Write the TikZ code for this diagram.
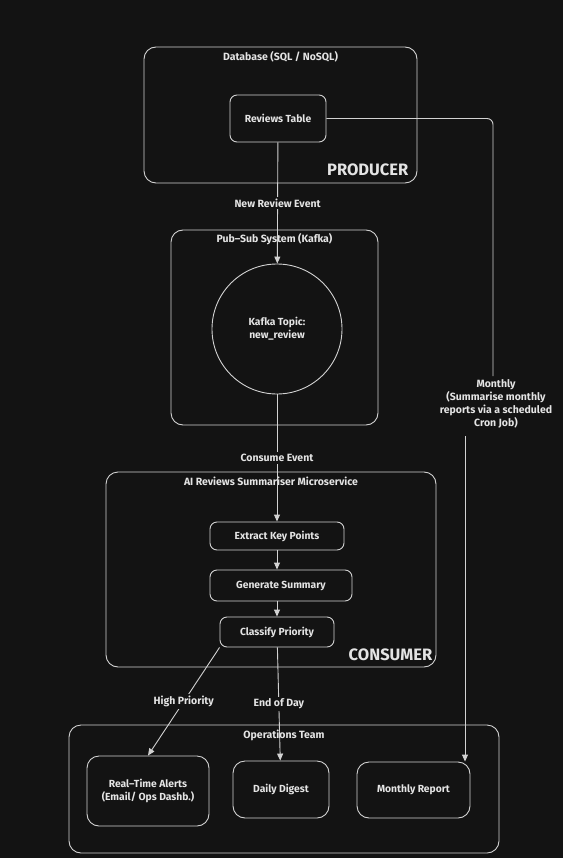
\documentclass[tikz,border=0pt]{standalone}
\usepackage{fontspec}
\setmainfont{Fira Sans}
\usetikzlibrary{positioning,arrows.meta}
\definecolor{bg}{HTML}{131313}
\definecolor{ink}{HTML}{D2D2D2}
\definecolor{txt}{HTML}{E4E4E4}
\begin{document}
\begin{tikzpicture}[x=1pt, y=-1pt,
    group_box/.style={draw=ink, line width=0.9pt, rounded corners=12pt, inner sep=0pt},
    step_box/.style={draw=ink, line width=0.9pt, rounded corners=7pt, inner sep=0pt, text=txt, align=center, font=\bfseries\fontsize{10.3}{13}\selectfont},
    group_title/.style={text=txt, inner sep=1pt, font=\bfseries\fontsize{10.5}{12}\selectfont},
    role_label/.style={text=txt, inner sep=0pt, font=\bfseries\fontsize{16.5}{18}\selectfont},
    edge_label/.style={fill=bg, text=txt, align=center, inner sep=2pt, font=\bfseries\fontsize{10.5}{13}\selectfont},
    flow/.style={draw=ink, line width=0.9pt, -{Triangle[width=6pt,length=7pt]}},
    link/.style={draw=ink, line width=0.9pt}
]
\fill[bg] (0,0) rectangle (563,858);

\node[group_box, minimum width=273pt, minimum height=136pt] (producer) at (280.5,115) {};
\node[group_title, below=4pt of producer.north] (db_title) {Database (SQL / NoSQL)};
\node[role_label, anchor=south east] (producer_lbl) at ([xshift=-9pt,yshift=7pt]producer.south east) {PRODUCER};
\node[step_box, minimum width=96pt, minimum height=47pt] (reviews) at (278,118.5) {Reviews Table};

\node[group_box, minimum width=207pt, minimum height=195pt] (kafka) at (274.5,327.5) {};
\node[group_title, below=3pt of kafka.north] (kafka_title) {Pub--Sub System (Kafka)};
\node[step_box, circle, minimum size=130pt] (topic) at (277,329) {Kafka Topic:\\new\_review};

\node[group_box, minimum width=330pt, minimum height=195pt] (consumer) at (271,569.5) {};
\node[group_title, below=4pt of consumer.north] (ai_title) {AI Reviews Summariser Microservice};
\node[role_label, anchor=south east] (consumer_lbl) at ([xshift=-4pt,yshift=6pt]consumer.south east) {CONSUMER};
\node[step_box, minimum width=134pt, minimum height=28pt] (extract) at (277,536) {Extract Key Points};
\node[step_box, minimum width=142pt, minimum height=31pt] (summary) at (281,585.5) {Generate Summary};
\node[step_box, minimum width=114pt, minimum height=30pt] (classify) at (277,632) {Classify Priority};

\node[group_box, minimum width=430pt, minimum height=128pt] (ops) at (284,789) {};
\node[group_title, below=4pt of ops.north] (ops_title) {Operations Team};
\node[step_box, minimum width=122pt, minimum height=70pt, rounded corners=12pt] (alerts) at (148,791) {Real--Time Alerts\\(Email/ Ops Dashb.)};
\node[step_box, minimum width=96pt, minimum height=57pt, rounded corners=12pt] (digest) at (281,789.5) {Daily Digest};
\node[step_box, minimum width=113pt, minimum height=56pt, rounded corners=12pt] (report) at (413.5,790) {Monthly Report};

\draw[flow] (reviews) -- node[edge_label] {New Review Event} (topic);
\draw[flow] (topic) -- node[edge_label] {Consume Event} (extract);
\draw[flow] (extract) -- (extract |- summary.north);
\draw[flow] (summary.south -| classify) -- (classify);
\draw[flow] (classify.south west) -- node[edge_label] {High Priority} (alerts.north);
\draw[flow] (classify) -- node[edge_label] {End of Day} (digest);

\coordinate (cron_top) at (493,376);
\coordinate (cron_bot) at (465,436);
\draw[link, rounded corners=6pt] (reviews.east) -| (cron_top);
\node[edge_label] (monthly) at (496,404) {Monthly\\(Summarise monthly\\reports via a scheduled\\Cron Job)};
\draw[flow] (cron_bot) -- (cron_bot |- report.north);
\end{tikzpicture}
\end{document}
